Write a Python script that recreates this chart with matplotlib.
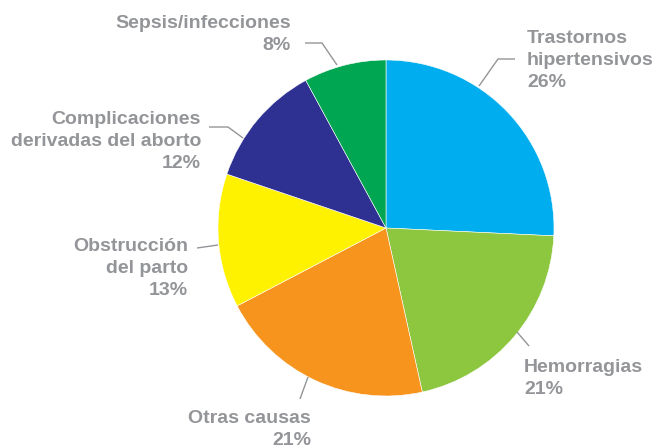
import matplotlib
matplotlib.use("Agg")
import matplotlib.pyplot as plt

# Causes of maternal death (share, %)
categories = ["Trastornos\nhipertensivos", "Hemorragias", "Otras causas",
              "Obstrucción\ndel parto", "Complicaciones\nderivadas del aborto",
              "Sepsis/infecciones"]
values = [26, 21, 21, 13, 12, 8]
colors = ["#00AEEF", "#8DC63F", "#F7941D", "#FFF200", "#2E3192", "#00A651"]

W, H = 655, 447
GRAY = "#939598"

fig = plt.figure(figsize=(W / 100, H / 100), dpi=100)
ax = fig.add_axes([0, 0, 1, 1])
ax.set_xlim(0, W)
ax.set_ylim(0, H)
ax.set_aspect("equal")
ax.axis("off")

cx, cy, r = 386, 228, 168
ax.pie(values, colors=colors, startangle=90, counterclock=False,
       center=(cx, H - cy), radius=r,
       wedgeprops=dict(edgecolor="white", linewidth=0.4))
ax.set_xlim(0, W)
ax.set_ylim(0, H)

# label anchors (pixel from top-left): x, last-line baseline, alignment
label_pos = [
    (527, 87, "left"),
    (524, 394, "left"),
    (311, 445, "right"),
    (188, 295, "right"),
    (201, 168, "right"),
    (291, 50, "right"),
]
# leader lines (pixel from top-left)
leaders = [
    [(515, 59), (498, 59), (479, 86)],
    [(529, 346), (517, 332)],
    [(300, 399), (308, 377)],
    [(197, 248), (218, 245)],
    [(209, 127), (228, 127), (243, 138)],
    [(305, 43), (322, 43), (337, 65)],
]

for cat, val, (x, y, ha), pts in zip(categories, values, label_pos, leaders):
    ax.text(x, H - y, f"{cat}\n{val}%", ha=ha, va="baseline",
            fontsize=14, fontweight="bold", color=GRAY,
            family="Liberation Sans", linespacing=1.38)
    xs = [p[0] for p in pts]
    ys = [H - p[1] for p in pts]
    ax.plot(xs, ys, color=GRAY, lw=1.0, solid_capstyle="butt")

fig.savefig("out.png", dpi=100)
